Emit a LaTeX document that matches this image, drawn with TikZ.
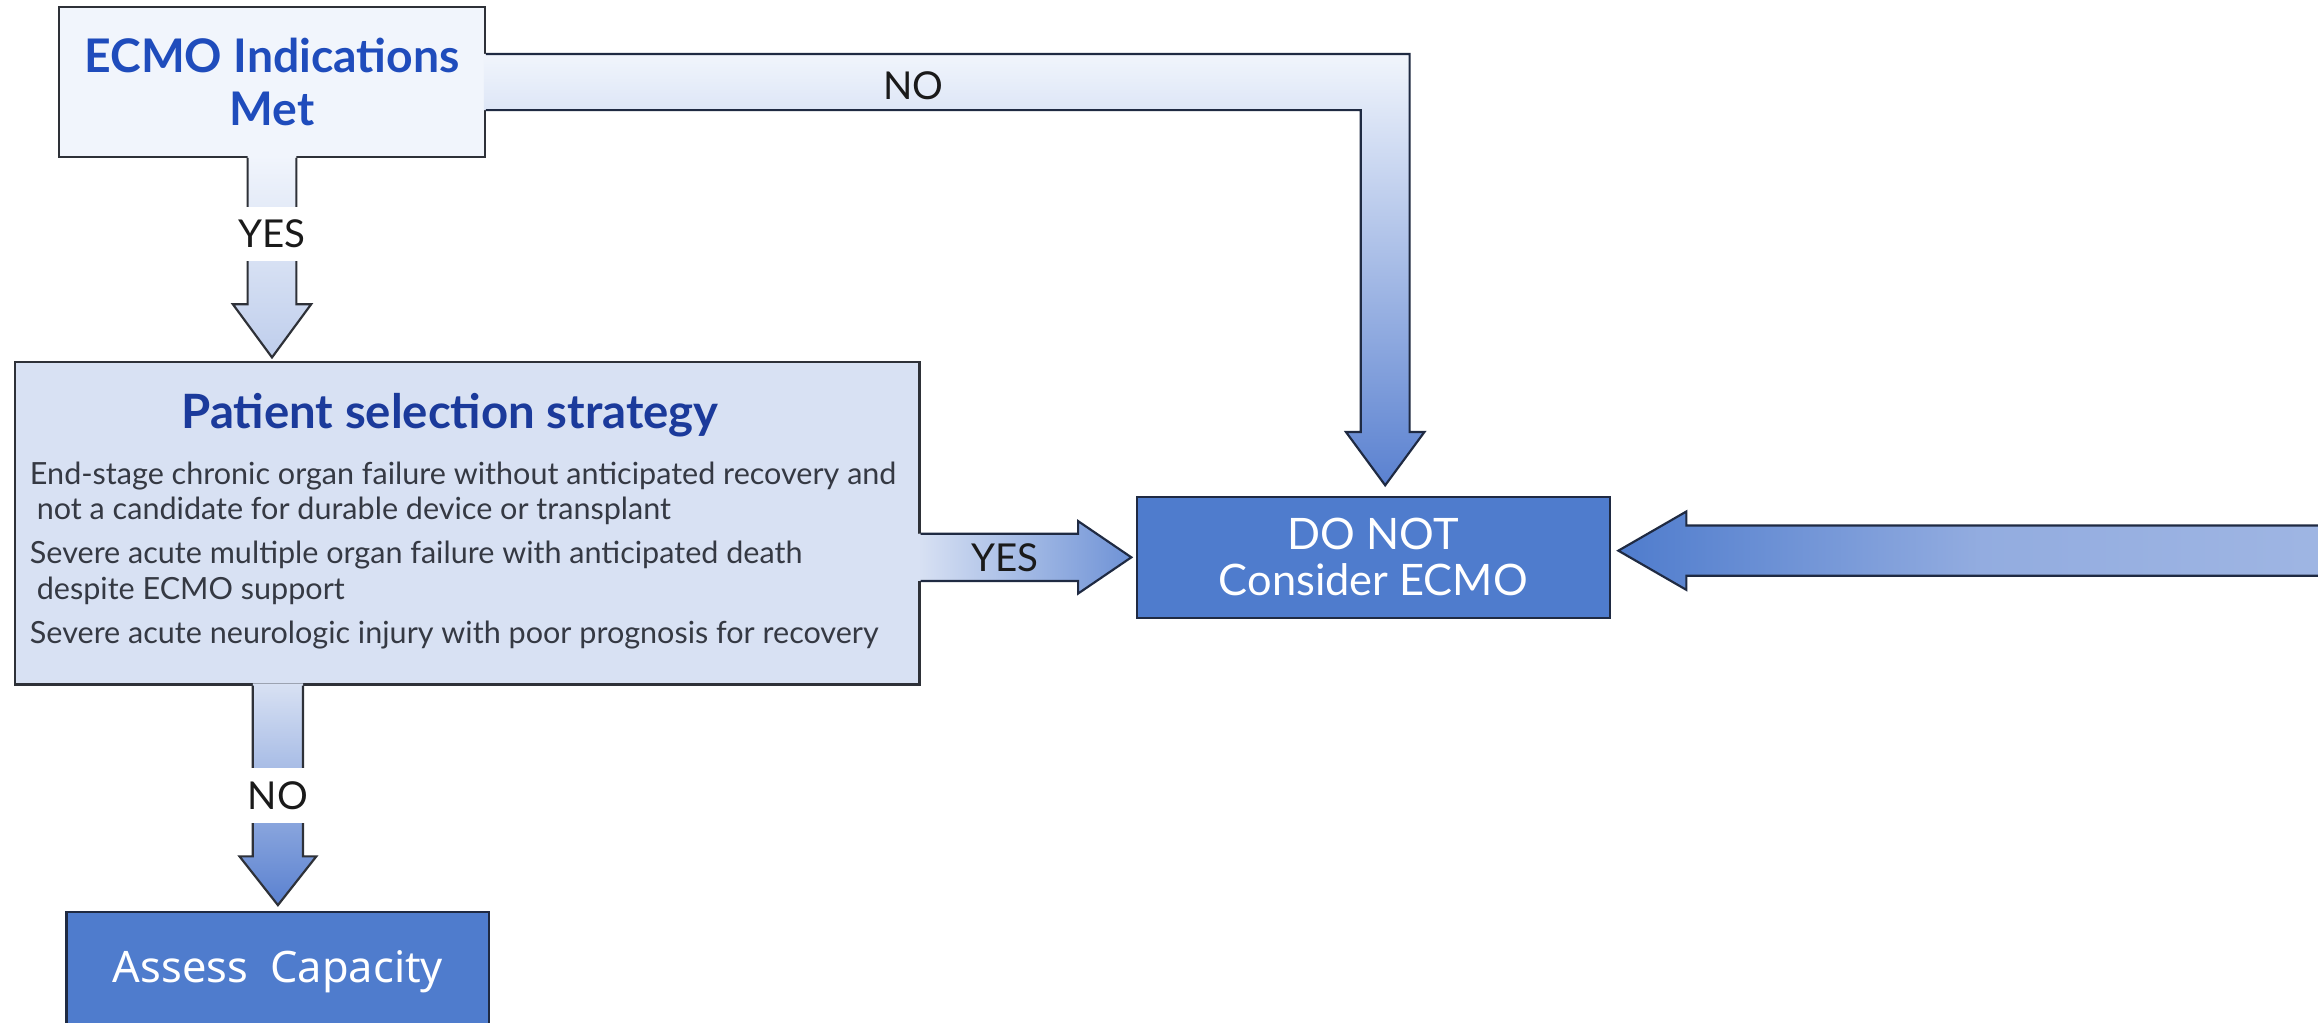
\documentclass[tikz,border=0pt]{standalone}
\usepackage{fontspec}
\setmainfont{Lato}
\newfontfamily\notofont{Noto Sans}
\usetikzlibrary{calc}

\definecolor{ecmofill}{HTML}{F1F5FC}
\definecolor{patfill}{HTML}{D8E1F3}
\definecolor{actfill}{HTML}{4F7CCD}
\definecolor{ecmoblue}{HTML}{1F4CBC}
\definecolor{patblue}{HTML}{1B3A9B}
\definecolor{itemgray}{HTML}{353943}
\definecolor{boxline}{HTML}{2E3138}
\definecolor{navyline}{HTML}{1F2A42}
\definecolor{lbltext}{HTML}{1A1A1A}
\definecolor{arrowdark}{HTML}{5A81D0}
\definecolor{arrowmid}{HTML}{6E92D6}

\newcommand\ecmofont{\bfseries\fontsize{23.5}{27}\selectfont}
\newcommand\ptitlefont{\bfseries\fontsize{24}{27}\selectfont}
\newcommand\itemfont{\fontsize{15.5}{18}\selectfont}
\newcommand\actfont{\fontsize{22}{23.25}\selectfont}
\newcommand\assessfont{\notofont\fontsize{22}{24}\selectfont}
\newcommand\lblfont{\fontsize{19.5}{22}\selectfont}

\tikzset{
  box/.style={draw=boxline, line width=1.1pt, rectangle, inner sep=0pt},
  actbox/.style={box, draw=navyline, fill=actfill, text=white, align=center},
  arrowline/.style={draw=boxline, line width=1.1pt, line join=miter},
  navyarrow/.style={draw=navyline, line width=1.1pt, line join=miter},
  lbl/.style={font=\lblfont, text=lbltext, inner sep=0pt},
  gapfill/.style={lbl, fill=white, minimum height=27.75pt, minimum width=28pt},
}

\begin{document}
\begin{tikzpicture}[x=0.75pt, y=-0.75pt]
\fill[white] (0,0) rectangle (1568,692);
\useasboundingbox (0,0) rectangle (1568,692);
\clip (0,0) rectangle (1568,692);

% ---- boxes ----
\node[box, fill=ecmofill, minimum width=216pt, minimum height=75.75pt,
      text=ecmoblue, font=\ecmofont, align=center] (ecmo) at (184,55.5)
      {ECMO Indications\\Met};

\node[box, fill=patfill, minimum width=459pt, minimum height=163.5pt] (patient) at (316,354) {};
\node[anchor=base, font=\ptitlefont, text=patblue, inner sep=0pt] (ptitle) at (304.5,289.6)
      {Patient selection strategy};
\node[anchor=north west, inner sep=0pt, align=left, font=\itemfont, text=itemgray] (criteria) at (20,312)
      {End-stage chronic organ failure without anticipated recovery and\\
       \hspace*{3.5pt}not a candidate for durable device or transplant\\[4.5pt]
       Severe acute multiple organ failure with anticipated death\\
       \hspace*{3.5pt}despite ECMO support\\[4.5pt]
       Severe acute neurologic injury with poor prognosis for recovery};

\node[actbox, minimum width=240pt, minimum height=61.5pt, font=\actfont] (donot) at (929,377)
      {DO NOT\\Consider ECMO};

\node[actbox, minimum width=214.5pt, minimum height=60pt, font=\assessfont] (assess) at (188,657)
      {Assess\ \ Capacity};

% ---- NO: indications not met -> do not consider ----
\coordinate (noS) at (ecmo.east);
\coordinate (noT) at ($(donot.north)+(8,-7)$);
\shade[top color=ecmofill, bottom color=arrowdark]
  ($(noS)+(-1.5,-19)$) -- ($(noT|-noS)+(16.5,-19)$) -- ($(noT)+(16.5,-36)$) --
  ($(noT)+(26.5,-36)$) -- (noT) -- ($(noT)+(-26.5,-36)$) -- ($(noT)+(-16.5,-36)$) --
  ($(noT|-noS)+(-16.5,19)$) -- ($(noS)+(-1.5,19)$) -- cycle;
\draw[navyarrow]
  ($(noS)+(0,-19)$) -- ($(noT|-noS)+(16.5,-19)$) -- ($(noT)+(16.5,-36)$) --
  ($(noT)+(26.5,-36)$) -- (noT) -- ($(noT)+(-26.5,-36)$) -- ($(noT)+(-16.5,-36)$) --
  ($(noT|-noS)+(-16.5,19)$) -- ($(noS)+(0,19)$);
\node[lbl] (lblno1) at ($(noS)+(289,2.5)$) {NO};

% ---- YES: indications met -> patient selection ----
\coordinate (y1S) at (ecmo.south);
\coordinate (y1T) at ($(ecmo.south|-patient.north)+(0,-2.5)$);
\shade[top color=ecmofill, bottom color=patfill!80!arrowdark]
  ($(y1S)+(-16.5,-1.5)$) -- ($(y1T)+(-16.5,-36)$) -- ($(y1T)+(-26.5,-36)$) -- (y1T) --
  ($(y1T)+(26.5,-36)$) -- ($(y1T)+(16.5,-36)$) -- ($(y1S)+(16.5,-1.5)$) -- cycle;
\draw[arrowline]
  ($(y1S)+(-16.5,0)$) -- ($(y1T)+(-16.5,-36)$) -- ($(y1T)+(-26.5,-36)$) -- (y1T) --
  ($(y1T)+(26.5,-36)$) -- ($(y1T)+(16.5,-36)$) -- ($(y1S)+(16.5,0)$);
\node[gapfill] (lblyes1) at ($(y1S)+(0,51.5)$) {YES};

% ---- YES: exclusion criteria present -> do not consider ----
\coordinate (y2S) at (patient.east|-donot.west);
\coordinate (y2T) at ($(donot.west)+(-3,0)$);
\shade[left color=patfill, right color=arrowmid]
  ($(y2S)+(-1.5,-16)$) -- ($(y2T)+(-36,-16)$) -- ($(y2T)+(-36,-24.5)$) -- (y2T) --
  ($(y2T)+(-36,24.5)$) -- ($(y2T)+(-36,16)$) -- ($(y2S)+(-1.5,16)$) -- cycle;
\draw[navyarrow]
  ($(y2S)+(0,-16)$) -- ($(y2T)+(-36,-16)$) -- ($(y2T)+(-36,-24.5)$) -- (y2T) --
  ($(y2T)+(-36,24.5)$) -- ($(y2T)+(-36,16)$) -- ($(y2S)+(0,16)$);
\node[lbl] (lblyes2) at ($(y2S)+(57,0.5)$) {YES};

% ---- NO: no exclusion criteria -> assess capacity ----
\coordinate (n2S) at (assess.north|-patient.south);
\coordinate (n2T) at ($(assess.north)+(0,-4)$);
\shade[top color=patfill, bottom color=arrowdark]
  ($(n2S)+(-17,-1.5)$) -- ($(n2T)+(-17,-33)$) -- ($(n2T)+(-26,-33)$) -- (n2T) --
  ($(n2T)+(26,-33)$) -- ($(n2T)+(17,-33)$) -- ($(n2S)+(17,-1.5)$) -- cycle;
\draw[arrowline]
  ($(n2S)+(-17,0)$) -- ($(n2T)+(-17,-33)$) -- ($(n2T)+(-26,-33)$) -- (n2T) --
  ($(n2T)+(26,-33)$) -- ($(n2T)+(17,-33)$) -- ($(n2S)+(17,0)$);
\node[gapfill] (lblno2) at ($(n2S)+(0,74.5)$) {NO};

% ---- incoming arrow from the right ----
\coordinate (rT) at ($(donot.east)+(5,-4.5)$);
\coordinate (rEnd) at ($(rT)+(490,0)$);
\shade[left color=actfill, right color=patfill!55!arrowdark, middle color=patfill!45!arrowdark]
  ($(rEnd)+(0,-17)$) -- ($(rT)+(46,-17)$) -- ($(rT)+(46,-26.5)$) -- (rT) --
  ($(rT)+(46,26.5)$) -- ($(rT)+(46,17)$) -- ($(rEnd)+(0,17)$) -- cycle;
\draw[navyarrow]
  ($(rEnd)+(0,-17)$) -- ($(rT)+(46,-17)$) -- ($(rT)+(46,-26.5)$) -- (rT) --
  ($(rT)+(46,26.5)$) -- ($(rT)+(46,17)$) -- ($(rEnd)+(0,17)$);
\end{tikzpicture}
\end{document}
